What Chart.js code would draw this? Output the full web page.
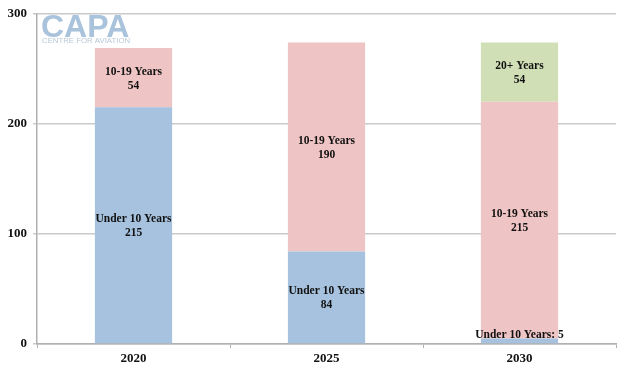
<!DOCTYPE html>
<html>
<head>
<meta charset="utf-8">
<script src="https://cdn.jsdelivr.net/npm/chart.js@4/dist/chart.umd.min.js"></script>
<style>
  html, body { margin: 0; padding: 0; background: #fff; }
  #wrap { width: 627px; height: 372px; }
</style>
</head>
<body>
<div id="wrap"><canvas id="fleetChart" width="627" height="372"></canvas></div>
<script>
// Chart data
const years = ['2020', '2025', '2030'];
const under10 = [215, 84, 5];
const tenTo19 = [54, 190, 215];
const over20 = [0, 0, 54];
const yTicks = [0, 100, 200, 300];

const seriesNames = ['Under 10 Years', '10-19 Years', '20+ Years'];
const serif = '"Liberation Serif", "DejaVu Serif", serif';

// Draws the two-line labels inside each stacked segment
const segmentLabels = {
    id: 'segmentLabels',
    afterDatasetsDraw(chart) {
        const ctx = chart.ctx;
        ctx.save();
        ctx.fillStyle = '#111';
        ctx.font = 'bold 11.5px ' + serif;
        ctx.textAlign = 'center';
        chart.data.datasets.forEach((ds, i) => {
            const meta = chart.getDatasetMeta(i);
            meta.data.forEach((bar, j) => {
                const v = ds.data[j];
                if (!v) return;
                const top = bar.y, bottom = bar.base;
                if (bottom - top < 20) {
                    ctx.textBaseline = 'bottom';
                    ctx.fillText(seriesNames[i] + ': ' + v, bar.x, top + 2);
                } else {
                    const mid = (top + bottom) / 2;
                    ctx.textBaseline = 'middle';
                    ctx.fillText(seriesNames[i], bar.x, mid - 6);
                    ctx.fillText(String(v), bar.x, mid + 8);
                }
            });
        });
        ctx.restore();
    }
};

// CAPA watermark in the top-left corner
const logo = {
    id: 'logo',
    afterDraw(chart) {
        const ctx = chart.ctx;
        ctx.save();
        ctx.fillStyle = '#a9c3dc';
        ctx.font = 'bold 32px "Liberation Sans", Arial, sans-serif';
        ctx.textBaseline = 'alphabetic';
        ctx.textAlign = 'left';
        ctx.fillText('CAPA', 41, 37);
        ctx.fillStyle = '#b8c8d8';
        ctx.font = '7.8px "Liberation Sans", Arial, sans-serif';
        ctx.fillText('CENTRE FOR AVIATION', 42, 43);
        ctx.restore();
    }
};

const ctx = document.getElementById('fleetChart').getContext('2d');
new Chart(ctx, {
    type: 'bar',
    data: {
        labels: years,
        datasets: [
            { label: seriesNames[0], data: under10, backgroundColor: '#a6c2de' },
            { label: seriesNames[1], data: tenTo19, backgroundColor: '#efc4c4' },
            { label: seriesNames[2], data: over20, backgroundColor: '#d0dfb6' }
        ]
    },
    options: {
        responsive: false,
        animation: false,
        layout: { padding: { top: 10, right: 11, left: 0, bottom: 0 } },
        plugins: {
            legend: { display: false },
            tooltip: { enabled: false }
        },
        datasets: {
            bar: { categoryPercentage: 1, barPercentage: 0.4, borderWidth: 0 }
        },
        scales: {
            x: {
                stacked: true,
                offset: true,
                grid: {
                    offset: true,
                    drawOnChartArea: false,
                    tickLength: 4,
                    color: '#b0b0b0'
                },
                border: { color: '#b0b0b0', width: 1.5 },
                ticks: {
                    color: '#111',
                    font: { family: serif, weight: 'bold', size: 13 },
                    padding: 3
                },
                afterFit(scale) { scale.height = 28; }
            },
            y: {
                stacked: true,
                min: 0,
                max: 300,
                afterBuildTicks(scale) {
                    scale.ticks = yTicks.map(v => ({ value: v }));
                },
                grid: { color: '#cacaca', tickLength: 4, lineWidth: 1.5 },
                border: { color: '#b0b0b0', width: 1.5 },
                ticks: {
                    color: '#111',
                    font: { family: serif, weight: 'bold', size: 13 },
                    padding: 6
                },
                afterFit(scale) { scale.width = 37; }
            }
        }
    },
    plugins: [segmentLabels, logo]
});
</script>
</body>
</html>
